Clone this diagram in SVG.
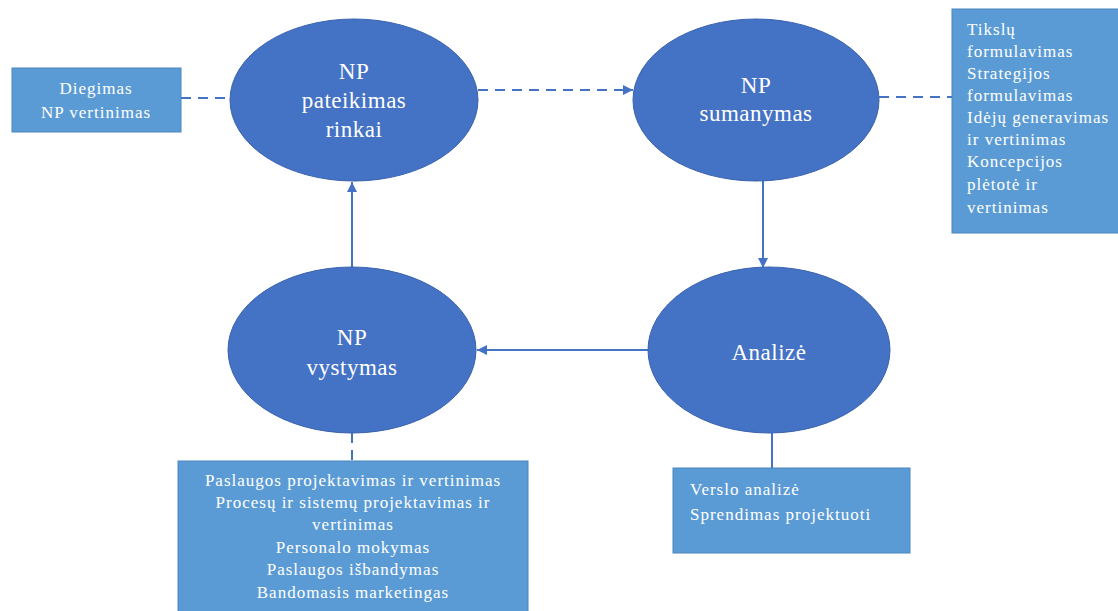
<svg xmlns="http://www.w3.org/2000/svg" width="1118" height="611" viewBox="0 0 1118 611">
<defs>
<style>
.ell{fill:#4472C4;stroke:#3A63AE;stroke-width:1}
.box{fill:#5B9BD5;stroke:#4A86BE;stroke-width:1}
.et{font-family:"Liberation Serif",serif;font-size:23px;fill:#fff;text-anchor:middle;letter-spacing:0.5px}
.bt{font-family:"Liberation Serif",serif;font-size:17px;fill:#fff;letter-spacing:1px}
.c{text-anchor:middle}
.ln{stroke:#4472C4;stroke-width:2;fill:none}
.dash{stroke-dasharray:10 7}
</style>
<marker id="ah" viewBox="0 0 10 10" refX="10" refY="5" markerWidth="5" markerHeight="5" orient="auto" markerUnits="strokeWidth">
<path d="M0,0 L10,5 L0,10 z" fill="#4472C4"/>
</marker>
</defs>
<rect width="1118" height="611" fill="#fff"/>
<g id="connectors">
<line class="ln dash" x1="181" y1="98" x2="230" y2="98"/>
<line class="ln dash" x1="478" y1="90" x2="633" y2="90" marker-end="url(#ah)"/>
<line class="ln dash" x1="879" y1="97" x2="952" y2="97"/>
<line class="ln" x1="763" y1="181" x2="763" y2="268" marker-end="url(#ah)"/>
<line class="ln" x1="648" y1="350" x2="477" y2="350" marker-end="url(#ah)"/>
<line class="ln" x1="352" y1="267" x2="352" y2="182" marker-end="url(#ah)"/>
<line class="ln dash" x1="352" y1="433" x2="352" y2="461" stroke-dasharray="8 5"/>
<line class="ln" x1="772" y1="433" x2="772" y2="468"/>
</g>
<g id="n-pateikimas">
<ellipse class="ell" cx="354" cy="100" rx="124" ry="81"/>
<text class="et" x="354" y="79">NP</text>
<text class="et" x="354" y="108">pateikimas</text>
<text class="et" x="354" y="137">rinkai</text>
</g>
<g id="n-sumanymas">
<ellipse class="ell" cx="756" cy="100" rx="123" ry="81"/>
<text class="et" x="756" y="93">NP</text>
<text class="et" x="756" y="121">sumanymas</text>
</g>
<g id="n-vystymas">
<ellipse class="ell" cx="352" cy="350" rx="124" ry="83"/>
<text class="et" x="352" y="345">NP</text>
<text class="et" x="352" y="375">vystymas</text>
</g>
<g id="n-analize">
<ellipse class="ell" cx="769" cy="350" rx="121" ry="83"/>
<text class="et" x="769" y="360">Analizė</text>
</g>
<g id="b-diegimas">
<rect class="box" x="12" y="68" width="169" height="64"/>
<text class="bt c" x="96" y="94">Diegimas</text>
<text class="bt c" x="96" y="118">NP vertinimas</text>
</g>
<g id="b-sumanymas">
<rect class="box" x="952" y="9" width="170" height="224"/>
<text class="bt" x="967" y="35">Tikslų</text>
<text class="bt" x="967" y="57">formulavimas</text>
<text class="bt" x="967" y="79">Strategijos</text>
<text class="bt" x="967" y="101">formulavimas</text>
<text class="bt" x="967" y="123">Idėjų generavimas</text>
<text class="bt" x="967" y="145">ir vertinimas</text>
<text class="bt" x="967" y="167">Koncepcijos</text>
<text class="bt" x="967" y="190">plėtotė ir</text>
<text class="bt" x="967" y="213">vertinimas</text>
</g>
<g id="b-vystymas">
<rect class="box" x="178" y="461" width="350" height="155"/>
<text class="bt c" x="353" y="486">Paslaugos projektavimas ir vertinimas</text>
<text class="bt c" x="353" y="508">Procesų ir sistemų projektavimas ir</text>
<text class="bt c" x="353" y="530">vertinimas</text>
<text class="bt c" x="353" y="553">Personalo mokymas</text>
<text class="bt c" x="353" y="575">Paslaugos išbandymas</text>
<text class="bt c" x="353" y="598">Bandomasis marketingas</text>
</g>
<g id="b-analize">
<rect class="box" x="673" y="468" width="237" height="85"/>
<text class="bt" x="690" y="495">Verslo analizė</text>
<text class="bt" x="690" y="520">Sprendimas projektuoti</text>
</g>
</svg>
